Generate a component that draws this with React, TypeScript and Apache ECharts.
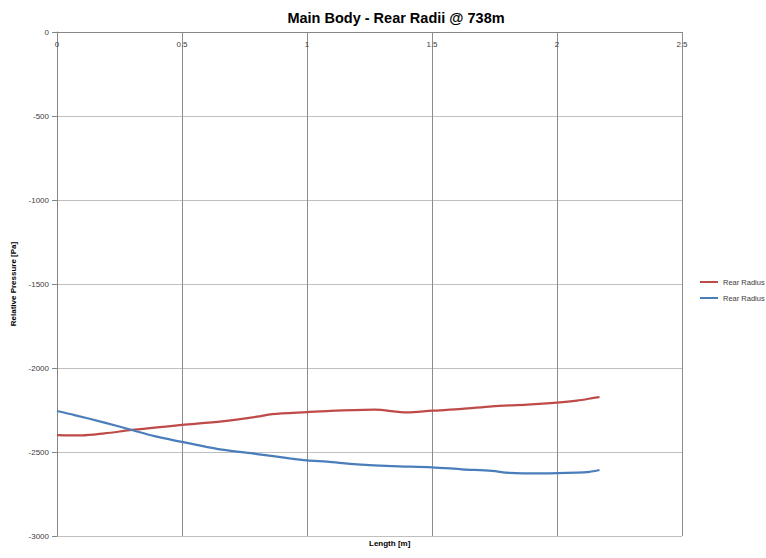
import React, { useEffect, useRef } from "react";
import * as echarts from "echarts";

// Length along the body [m] and relative pressure [Pa] for each radius trace
const redLength = [0, 0.1, 0.19, 0.3, 0.39, 0.5, 0.66, 0.8, 0.86, 1.0, 1.08, 1.27, 1.4, 1.5, 1.62, 1.74, 1.88, 2.0, 2.08, 2.16, 2.17];
const redPressure = [-2399, -2401, -2389, -2369, -2355, -2339, -2318, -2290, -2274, -2262, -2256, -2248, -2264, -2254, -2244, -2228, -2218, -2206, -2194, -2175, -2174];

const blueLength = [0, 0.07, 0.19, 0.3, 0.39, 0.5, 0.54, 0.66, 0.8, 0.93, 1.0, 1.08, 1.2, 1.34, 1.5, 1.62, 1.74, 1.81, 1.94, 2.08, 2.13, 2.17];
const bluePressure = [-2256, -2280, -2325, -2369, -2406, -2440, -2452, -2486, -2512, -2538, -2550, -2558, -2573, -2584, -2591, -2603, -2613, -2624, -2627, -2623, -2618, -2607];

const seriesLabel = "Rear Radius";
const titleText = "Main Body - Rear Radii @ 738m";
const xName = "Length [m]";
const yName = "Relative Pressure [Pa]";

const zip = (xs: number[], ys: number[]) => xs.map((x, i) => [x, ys[i]]);

export default function App() {
  const ref = useRef<HTMLDivElement>(null);

  useEffect(() => {
    if (!ref.current) return;
    const chart = echarts.init(ref.current, null, { renderer: "svg" });
    const font = "'Liberation Sans', Arial, sans-serif";
    chart.setOption({
      animation: false,
      backgroundColor: "#ffffff",
      textStyle: { fontFamily: font },
      title: {
        text: titleText,
        left: 391,
        top: 5,
        textAlign: "center",
        textStyle: { fontSize: 14.5, fontWeight: "bold", color: "#000", fontFamily: font },
      },
      grid: { left: 57, top: 32, width: 625, height: 504, containLabel: false },
      legend: {
        orient: "vertical",
        left: 700,
        top: 278,
        padding: 0,
        icon: "rect",
        itemWidth: 18,
        itemHeight: 2,
        itemGap: 8,
        textStyle: { fontSize: 7.5, color: "#404040" },
        formatter: () => seriesLabel,
        data: ["red", "blue"],
      },
      xAxis: {
        type: "value",
        position: "top",
        min: 0,
        max: 2.5,
        interval: 0.5,
        axisLine: { show: true, onZero: false, lineStyle: { color: "#868686", width: 1 } },
        axisTick: { show: false },
        axisLabel: { inside: true, margin: 8, fontSize: 8, color: "#404040" },
        splitLine: { show: true, lineStyle: { color: "#8c8c8c", width: 1 } },
      },
      yAxis: {
        type: "value",
        min: -3000,
        max: 0,
        interval: 500,
        name: yName,
        nameLocation: "middle",
        nameRotate: 90,
        nameGap: 34,
        nameTextStyle: { fontSize: 8, fontWeight: "bold", color: "#000" },
        axisLine: { show: true, lineStyle: { color: "#868686", width: 1 } },
        axisTick: { show: true, length: 5, lineStyle: { color: "#868686" } },
        axisLabel: { fontSize: 8, color: "#404040", margin: 8, formatter: (v: number) => String(v) },
        splitLine: { show: true, lineStyle: { color: "#bfbfbf", width: 1 } },
      },
      graphic: [
        {
          type: "text",
          left: 369,
          top: 539,
          style: { text: xName, fill: "#000", font: `bold 8px ${font}`, textAlign: "center" },
        },
      ],
      series: [
        {
          name: "red",
          type: "line",
          data: zip(redLength, redPressure),
          smooth: 0.3,
          symbol: "none",
          itemStyle: { color: "#BE4B48" },
          lineStyle: { color: "#BE4B48", width: 2.25 },
        },
        {
          name: "blue",
          type: "line",
          data: zip(blueLength, bluePressure),
          smooth: 0.3,
          symbol: "none",
          itemStyle: { color: "#4A7EBB" },
          lineStyle: { color: "#4A7EBB", width: 2.25 },
        },
      ],
    });
    return () => chart.dispose();
  }, []);

  return (
    <div
      ref={ref}
      style={{ position: "fixed", left: 0, top: 0, width: 766, height: 558 }}
    />
  );
}
